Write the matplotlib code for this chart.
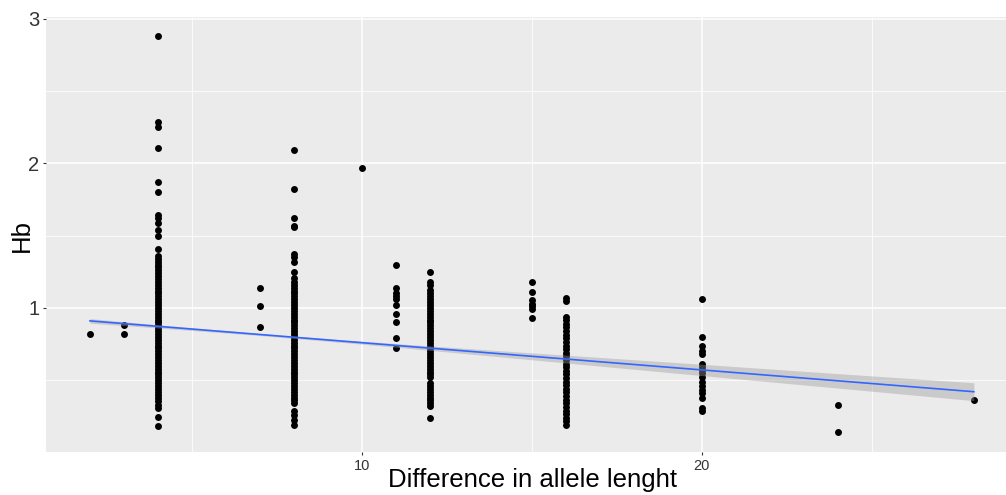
#!/usr/bin/env python3
"""Hb versus difference in allele length, ggplot-like scatter with a linear fit."""

import numpy as np
import matplotlib.pyplot as plt

plt.rcParams['font.family'] = ['Liberation Sans', 'DejaVu Sans']

# ---- data (one list of Hb values per allele-length difference)
diff_values = [2, 3, 4, 7, 8, 10, 11, 12, 15, 16, 20, 24, 28]

hb_d2 = [0.82]
hb_d3 = [0.88, 0.82]
hb_d4 = [2.88, 2.29, 2.25, 2.11, 1.87, 1.80, 1.64, 1.62, 1.59, 1.54, 1.50, 1.41,
         1.36, 1.34, 1.32, 1.30, 1.28, 1.26, 1.24, 1.22, 1.20, 1.18, 1.16, 1.14,
         1.12, 1.10, 1.08, 1.06, 1.04, 1.02, 1.00, 0.98, 0.96, 0.94, 0.92, 0.90,
         0.88, 0.86, 0.84, 0.82, 0.80, 0.78, 0.76, 0.74, 0.72, 0.70, 0.68, 0.66,
         0.64, 0.62, 0.60, 0.58, 0.56, 0.54, 0.52, 0.50, 0.48, 0.46, 0.44, 0.42,
         0.40, 0.38, 0.355, 0.33, 0.31, 0.245, 0.18]
hb_d7 = [1.14, 1.01, 0.87]
hb_d8 = [2.09, 1.82, 1.62, 1.57, 1.56, 1.37, 1.35, 1.32, 1.25, 1.21,
         1.18, 1.16, 1.14, 1.12, 1.10, 1.08, 1.06, 1.04, 1.02, 1.00, 0.98, 0.96,
         0.94, 0.92, 0.90, 0.88, 0.86, 0.84, 0.82, 0.80, 0.78, 0.76, 0.74, 0.72,
         0.70, 0.68, 0.66, 0.64, 0.62, 0.60, 0.58, 0.56, 0.54, 0.52, 0.50, 0.48,
         0.46, 0.44, 0.42, 0.40, 0.38, 0.36, 0.34,
         0.29, 0.26, 0.225, 0.19]
hb_d10 = [1.97]
hb_d11 = [1.30, 1.14, 1.10, 1.08, 1.06, 1.02, 0.96, 0.90, 0.79, 0.72]
hb_d12 = [1.25, 1.18, 1.16, 1.125,
          1.10, 1.08, 1.06, 1.04, 1.02, 1.00, 0.98, 0.96, 0.94, 0.92, 0.90,
          0.88, 0.86, 0.84, 0.82, 0.80, 0.78, 0.76, 0.74, 0.72, 0.70, 0.68,
          0.66, 0.64, 0.62, 0.60, 0.58, 0.56, 0.54, 0.52,
          0.48, 0.46, 0.44, 0.42, 0.40, 0.38, 0.36, 0.34, 0.32, 0.24]
hb_d15 = [1.18, 1.11, 1.055, 1.03, 1.01, 0.99, 0.93]
hb_d16 = [1.07, 1.05,
          0.94, 0.915, 0.89, 0.865, 0.84, 0.815, 0.79, 0.765, 0.74, 0.715,
          0.69, 0.665, 0.64, 0.615, 0.59, 0.565, 0.54, 0.515, 0.49, 0.465,
          0.44, 0.415, 0.39, 0.365, 0.34, 0.315, 0.29, 0.265, 0.24, 0.215, 0.19]
hb_d20 = [1.06, 0.80, 0.74, 0.70, 0.68, 0.61, 0.59, 0.57, 0.55, 0.52, 0.49,
          0.46, 0.43, 0.41, 0.38, 0.31, 0.29]
hb_d24 = [0.33, 0.14]
hb_d28 = [0.36]

hb_columns = [hb_d2, hb_d3, hb_d4, hb_d7, hb_d8, hb_d10, hb_d11, hb_d12,
              hb_d15, hb_d16, hb_d20, hb_d24, hb_d28]

# linear fit (lm) and its confidence band half-width
fit_intercept = 0.948
fit_slope = -0.01885
band_x = [2, 4, 7, 10, 13, 16, 20, 24, 28]
band_half = [0.016, 0.011, 0.007, 0.010, 0.018, 0.027, 0.039, 0.050, 0.062]


def main():
    fig = plt.figure(figsize=(10.06, 4.95), dpi=100)
    W, H = 1006, 495
    # panel in pixel coordinates (right edge runs off the image like the reference)
    left, right, top, bottom = 45.8, 1018.0, 16.5, 452.0
    ax = fig.add_axes([left / W, 1 - bottom / H, (right - left) / W, (bottom - top) / H])

    ax.set_facecolor('#EBEBEB')
    for s in ax.spines.values():
        s.set_visible(False)

    ax.set_xlim(0.7, 29.3)
    ax.set_ylim(0.003, 3.017)
    ax.set_xticks([10, 20])
    ax.set_xticklabels(['10', '20'])
    ax.set_xticks([5, 15, 25], minor=True)
    ax.set_yticks([1, 2, 3])
    ax.set_yticklabels(['1', '2', '3'])
    ax.set_yticks([0.5, 1.5, 2.5], minor=True)

    ax.grid(True, which='major', color='white', linewidth=1.1, zorder=0)
    ax.grid(True, which='minor', color='white', linewidth=0.55, zorder=0)
    ax.set_axisbelow(True)

    ax.tick_params(axis='x', which='major', labelsize=10.5, colors='#333333',
                   length=2.5, width=0.8, pad=2.5)
    ax.tick_params(axis='y', which='major', labelsize=14.5, colors='#333333',
                   length=2.5, width=0.8, pad=2.0)
    ax.tick_params(which='minor', length=0)

    # points
    for d, col in zip(diff_values, hb_columns):
        ax.scatter(np.full(len(col), d), col, s=25, color='black',
                   linewidths=0, zorder=3)

    # confidence band + fit line
    bx = np.array(band_x, dtype=float)
    by = fit_intercept + fit_slope * bx
    bh = np.array(band_half)
    ax.fill_between(bx, by - bh, by + bh, color='#999999', alpha=0.4,
                    linewidth=0, zorder=4)
    ax.plot(bx, by, color='#3366FF', linewidth=1.2, zorder=5)

    # axis titles
    fig.text(532 / W, 1 - 487 / H, 'Difference in allele lenght',
             ha='center', va='baseline', fontsize=18.5, color='black')
    fig.text(22 / W, 1 - 236 / H, 'Hb', rotation=90,
             ha='center', va='center', fontsize=18.5, color='black')

    plt.savefig('out.png', dpi=100)
    plt.close()


if __name__ == "__main__":
    main()
